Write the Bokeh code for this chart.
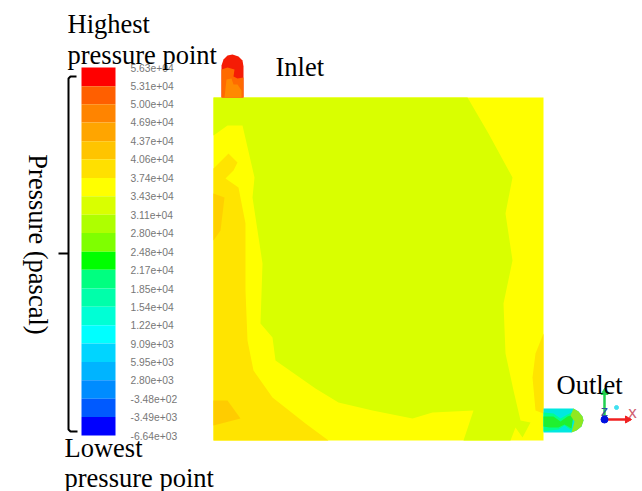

from math import pi
from bokeh.plotting import figure
from bokeh.models import Range1d
from bokeh.core.properties import value
from bokeh.embed import file_html
from bokeh.resources import INLINE

# Colour scale: values at band edges, top to bottom
pressure_labels = ["5.63e+04","5.31e+04","5.00e+04","4.69e+04","4.37e+04","4.06e+04","3.74e+04",
                   "3.43e+04","3.11e+04","2.80e+04","2.48e+04","2.17e+04","1.85e+04","1.54e+04",
                   "1.22e+04","9.09e+03","5.95e+03","2.80e+03","-3.48e+02","-3.49e+03","-6.64e+03"]
pressure_values = [float(s) for s in pressure_labels]
band_colors = ["#ff0000","#ff5f00","#ff8400","#ffa500","#ffc400","#ffe000","#ffff00","#d9ff00","#aeff00",
               "#7fff00","#00ff00","#00ff80","#00ffaa","#00ffd5","#00ffff","#00d5ff","#00b4ff","#008cff",
               "#005aff","#0000ff"]

# Contour regions of the tank (image coordinates)
tank_x = [213, 543, 543, 213]
tank_y = [97, 97, 440, 440]
core_x = [213,467,488,512,505,512,503,505,513,520,530,522,515,510,463,473,432,412,372,338,315,275,272,260,262,252,254,242,227,213]
core_y = [97,97,133,177,213,260,303,353,390,420,422,437,427,440,440,410,412,418,410,402,388,360,337,323,263,197,177,125,125,135]
warm_left_x = [213,228,237,233,225,238,245,245,247,253,272,305,328,213]
warm_left_y = [168,153,162,170,178,187,223,290,340,370,397,423,440,440]
warm_right_x = [543,535,532,535,543]
warm_right_y = [333,353,377,410,413]
hot_wall_x = [213,224,220,213]
hot_wall_y = [193,197,230,240]
hot_corner_x = [213,227,240,213]
hot_corner_y = [400,400,418,425]

# Inlet pipe
inlet_x = [221,221,223,227,232,238,242,243,243]
inlet_y = [97,65,59,55,54,56,60,66,97]
inlet_mid_x = [221,221,227,234,233,237,243,243]
inlet_mid_y = [97,69,67,69,76,78,77,97]
inlet_low_x = [224,226,231,233,237,241,241,224]
inlet_low_y = [97,79,78,84,84,90,97,97]

# Outlet pipe
outlet_x = [543,573,578,582,583,581,576,571,543]
outlet_y = [408,408,411,416,420,426,430,432,432]
outlet_teal_x = [543,553,560,567,573,571,564,558,550,543]
outlet_teal_y = [412,413,418,414,411,430,425,429,430,431]
outlet_green_x = [543,553,560,567,573,571,564,558,549,543]
outlet_green_y = [416,416,421,416,414,428,424,427,427,426]
outlet_tip_x = [573,578,582,583,581,576,571,574,570]
outlet_tip_y = [408,411,416,420,426,430,432,421,415]

# Axis triad
triad_x = [604, 604, 630]
triad_y = [392, 419, 419]

p = figure(width=642, height=491, output_backend="svg", toolbar_location=None,
           x_range=Range1d(0, 642), y_range=Range1d(491, 0), min_border=0, outline_line_color=None)
p.axis.visible = False
p.grid.visible = False

px_per_unit = (435 - 67) / (pressure_values[0] - pressure_values[-1])
p.extra_y_ranges = {"pressure": Range1d(pressure_values[-1] - (491 - 435) / px_per_unit,
                                        pressure_values[0] + 67 / px_per_unit)}

# legend bands
p.quad(left=81, right=115, top=pressure_values[:-1], bottom=pressure_values[1:],
       fill_color=band_colors, line_color=None, y_range_name="pressure")
p.text(x=130, y=pressure_values, text=pressure_labels, text_font=value("Liberation Sans"),
       text_font_size="10.3px", text_color="#777777", text_baseline="middle", y_range_name="pressure")

# tank
p.patch(tank_x, tank_y, fill_color="#ffff00", line_color=None)
p.patch(warm_left_x, warm_left_y, fill_color="#ffe400", line_color=None)
p.patch(warm_right_x, warm_right_y, fill_color="#ffe400", line_color=None)
p.patch(hot_wall_x, hot_wall_y, fill_color="#ffd000", line_color=None)
p.patch(hot_corner_x, hot_corner_y, fill_color="#ffcc00", line_color=None)
p.patch(core_x, core_y, fill_color="#d9ff00", line_color=None)

# inlet
p.patch(inlet_x, inlet_y, fill_color="#f51c05", line_color=None)
p.patch(inlet_mid_x, inlet_mid_y, fill_color="#ff6a00", line_color=None)
p.patch(inlet_low_x, inlet_low_y, fill_color="#ff8a00", line_color=None)

# outlet
p.patch(outlet_x, outlet_y, fill_color="#00e8e0", line_color=None)
p.patch(outlet_teal_x, outlet_teal_y, fill_color="#00ff90", line_color=None)
p.patch(outlet_green_x, outlet_green_y, fill_color="#20f030", line_color=None)
p.patch(outlet_tip_x, outlet_tip_y, fill_color="#90e820", line_color=None)

# triad
p.line([triad_x[0], triad_x[1]], [triad_y[0], triad_y[1]], line_color="#20d050", line_width=2.5)
p.line([triad_x[1], triad_x[2]], [triad_y[1], triad_y[2]], line_color="#f02020", line_width=2.5)
p.scatter([triad_x[0]], [triad_y[0]], marker="triangle", size=7, color="#20d050")
p.scatter([triad_x[2] - 3], [triad_y[2]], marker="triangle", size=7, color="#f02020", angle=-pi/2)
p.scatter([triad_x[1]], [triad_y[1]], marker="circle", size=7, color="#0010e0")
p.scatter([616], [407], marker="circle", size=4, color="#40e0f0")
p.text([604], [410], text=["z"], text_font=value("Liberation Sans"), text_font_size="15px", text_color="#3050a0",
       text_align="center", text_baseline="middle")
p.text([632], [412], text=["x"], text_font=value("Liberation Sans"), text_font_size="17px", text_color="#d06070",
       text_align="center", text_baseline="middle")

# bracket
p.line([76, 70, 68, 68, 70, 77], [76, 76, 78, 429, 431, 431], line_color="black", line_width=2)
p.line([58, 68], [253, 253], line_color="black", line_width=2)

serif = value("Liberation Serif")
def note(x, y, s, **kw):
    p.text([x], [y], text=[s], text_font=serif, text_font_size="26.5px", text_color="#000000",
           text_baseline="middle", **kw)

note(67, 23, "Highest")
note(67, 54, "pressure point")
note(275, 66, "Inlet")
note(556, 384, "Outlet")
note(64, 447, "Lowest")
note(64, 477, "pressure point")
note(37, 244, "Pressure (pascal)", angle=-pi/2, text_align="center")

open("out.html", "w").write(file_html(p, INLINE))
